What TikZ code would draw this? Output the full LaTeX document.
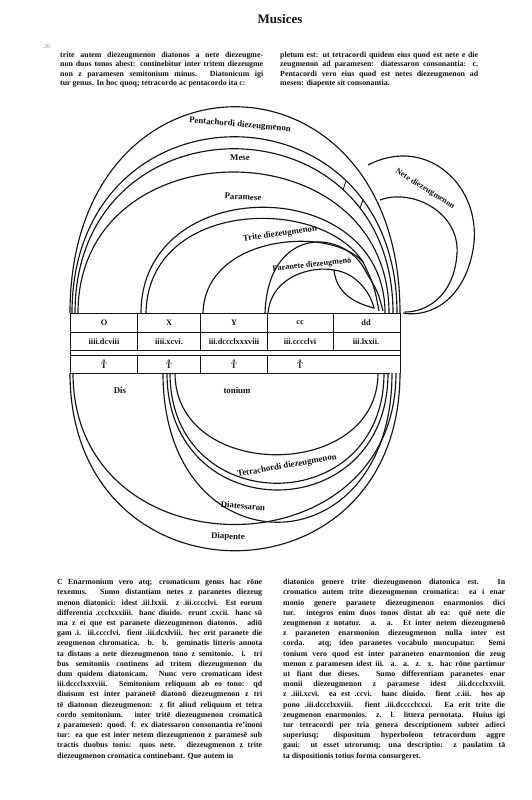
\documentclass[tikz,border=0pt]{standalone}
\usepackage{fontspec}
\setmainfont{Liberation Serif}
\usetikzlibrary{calc}
\colorlet{ink}{black!92}
\newlength{\colw}
\newcommand{\jl}[1]{\makebox[\colw][s]{#1}\\}
\newcommand{\tonus}{\shortstack{\fontsize{5.5}{5.5}\selectfont o\\[-2.5pt]T}}
\tikzstyle{runhead}=[font=\bfseries\fontsize{13}{13}\selectfont, inner sep=0pt, text=ink]
\tikzstyle{folio}=[font=\fontsize{6}{6}\selectfont, inner sep=0pt, text=black!45]
\tikzstyle{body}=[font=\bfseries\fontsize{7.9}{9.3}\selectfont, align=left, inner sep=0pt, anchor=north west, text=ink]
\tikzstyle{bodylow}=[body, font=\bfseries\fontsize{7.9}{10.2}\selectfont]
\tikzstyle{tag}=[font=\bfseries\fontsize{8.8}{8.8}\selectfont, inner sep=0pt, text=ink]
\tikzstyle{smalltag}=[tag, font=\bfseries\fontsize{8.2}{8.2}\selectfont]
\tikzstyle{cell}=[font=\bfseries\fontsize{8.3}{8.3}\selectfont, inner sep=0pt, text=ink]
\tikzstyle{band}=[line width=1.15pt, draw=ink]
\tikzstyle{rule}=[line width=0.9pt, draw=ink]

\begin{document}
\begin{tikzpicture}[x=1pt,y=-1pt]
\useasboundingbox[fill=white] (0,0) rectangle (531,800);

% Running head and folio
\node[runhead] (title) at (280,19) {Musices};
\node[folio] (folio) at (47,47) {26};

% Text above the figure
\node[body] (textTL) at (60,52) {\global\colw=203pt\relax
\jl{trite autem diezeugmenon diatonos a nete diezeugme-}
\jl{non duos tonos abest: continebitur inter tritem diezeugme}
\jl{non z paramesen semitonium minus. Diatonicum igi}
tur genus. In hoc quoq; tetracordo ac pentacordo ita c:};
\node[body] (textTR) at (280,52) {\global\colw=198pt\relax
\jl{pletum est: ut tetracordi quidem eius quod est nete e die}
\jl{zeugmenon ad paramesen: diatessaron consonantia: c.}
\jl{Pentacordi vero eius quod est netes diezeugmenon ad}
mesen: diapente sit consonantia.};

% Arcs above the table
\draw[band] (70,313) .. controls (70,38) and (400,38) .. (400,313);
\draw[band] (72,313) .. controls (72,78) and (397,78) .. (397,313);
\draw[band] (75,313) .. controls (75,94) and (393,94) .. (393,313);
\draw[band] (78,313) .. controls (78,125) and (389,125) .. (389,313);
\draw[band] (141,313) .. controls (141,172) and (385,172) .. (385,313);
\draw[rule] (346,181) -- (343,190);
\draw[rule] (363,200) -- (360,208);
% trite and paranete
\draw[band] (146,313) .. controls (148,200) and (320,195) .. (363,262);
\draw[band] (203,313) .. controls (205,235) and (330,225) .. (363,262);
\draw[band] (265,313) .. controls (268,225) and (345,228) .. (366,272);
\draw[band] (268,313) .. controls (272,274) and (315,266) .. (334,270);
\draw[band] (363,262) .. controls (374,285) .. (379,311);
\draw[band] (366,272) .. controls (378,292) .. (383,311);
\draw[band] (334,270) .. controls (356,273) and (370,292) .. (374,308)
  .. controls (350,302) and (336,290) .. (334,270);
% nete
\draw[band] (368,165) .. controls (428,134) and (484,188) .. (473,250)
  .. controls (464,300) and (430,318) .. (403,313);
\draw[band] (380,200) .. controls (412,188) and (460,212) .. (457,254)
  .. controls (454,295) and (428,312) .. (405,312);

\node[tag] (pentachordi) at (240,125) [rotate=-5] {Pentachordi diezeugmenon};
\node[tag] (mese) at (240,158) {Mese};
\node[tag] (paramese) at (243,197) [rotate=-3] {Paramese};
\node[tag] (trite) at (280,234) [rotate=8] {Trite diezeugmenon};
\node[smalltag] (paranete) at (312,265) [rotate=6] {Paranete diezeugmen\={o}};
\node[smalltag] (nete) at (425,189) [rotate=-32] {Nete diezeugmenon};

% Table
\draw[rule] (70,313) -- (400,313);
\draw[rule] (70,332) -- (400,332);
\draw[rule] (70,350) -- (400,350);
\draw[rule] (70,355) -- (400,355);
\draw[rule] (70,373) -- (390,373);
\draw[rule] (70,313) -- (70,373);
\draw[rule] (400,313) -- (400,373);
\foreach \x in {137,200,267,333}{ \draw[rule] (\x,313) -- (\x,350); }
\foreach \x in {137,200,267}{ \draw[rule] (\x,355) -- (\x,373); }

\node[cell] (o) at (104,323) {O};
\node[cell] (x) at (169,323) {X};
\node[cell] (y) at (234,323) {Y};
\node[cell] (cc) at (300,323) {cc};
\node[cell] (dd) at (366,323) {dd};
\node[cell] (n1) at (104,342) {iiii.dcviii};
\node[cell] (n2) at (169,342) {iiii.xcvi.};
\node[cell] (n3) at (234,342) {iii.dccclxxxviii};
\node[cell] (n4) at (300,342) {iii.cccclvi};
\node[cell] (n5) at (366,342) {iii.lxxii.};
\node[cell] (t1) at (104,364) {\tonus};
\node[cell] (t2) at (169,364) {\tonus};
\node[cell] (t3) at (234,364) {\tonus};
\node[cell] (t4) at (300,364) {\tonus};
\node[tag] (dis) at (120,390) {Dis};
\node[tag] (tonium) at (237,390) {tonium};

% Arcs below the table
\draw[band] (70,373) .. controls (70,610) and (400,610) .. (400,373);
\draw[band] (73,373) .. controls (73,575) and (396,575) .. (396,373);
\draw[band] (163,373) .. controls (163,572) and (392,572) .. (392,373);
\draw[band] (167,373) .. controls (167,529) and (388,529) .. (388,373);
\draw[band] (170,373) .. controls (170,520) and (384,520) .. (384,373);
\draw[band] (175,373) .. controls (175,482) and (378,482) .. (378,373);

\node[tag] (tetrachordi) at (287,466) [rotate=10] {Tetrachordi diezeugmenon};
\node[tag] (diatessaron) at (243,506) [rotate=-5] {Diatessaron};
\node[tag] (diapente) at (228,537) [rotate=-2] {Diapente};

% Text below the figure
\node[bodylow] (textBL) at (57,579) {\global\colw=205pt\relax
\jl{C Enarmonium vero atq; cromaticum genus hac r\={o}ne}
\jl{texemus. Sumo distantiam netes z paranetes diezeug}
\jl{menon diatonici: idest .iii.lxxii. z .iii.cccclvi. Est eorum}
\jl{differentia .ccclxxxiiii. hanc diuido. erunt .cxcii. hanc s\={u}}
\jl{ma z ei que est paranete diezeugmenon diatonos. adi\={u}}
\jl{gam .i. iii.cccclvi. fient .iii.dcxlviii. hec erit paranete die}
\jl{zeugmenon chromatica. b. b. geminatis litteris annota}
\jl{ta distans a nete diezeugmenon tono z semitonio. i. tri}
\jl{bus semitoniis continens ad tritem diezeugmenon du}
\jl{dum quidem diatonicam. Nunc vero cromaticam idest}
\jl{iii.dccclxxxviii. Semitonium reliquum ab eo tono: qd}
\jl{diuisum est inter paranet\={e} diaton\={o} diezeugmenon z tri}
\jl{t\={e} diatonon diezeugmenon: z fit aliud reliquum et tetra}
\jl{cordo semitonium. inter trit\={e} diezeugmenon cromatic\={a}}
\jl{z paramesen: quod. f. ex diatessaron consonantia re'inoni}
\jl{tur: ea que est inter netem diezeugmenon z parames\={e} sub}
\jl{tractis duobus tonis: quos nete. diezeugmenon z trite}
diezeugmenon cromatica continebant. Que autem in};
\node[bodylow] (textBR) at (283,579) {\global\colw=222pt\relax
\jl{diatonico genere trite diezeugmenon diatonica est. In}
\jl{cromatico autem trite diezeugmenon cromatica: ea i enar}
\jl{monio genere paranete diezeugmenon enarmonios dici}
\jl{tur. integros enim duos tonos distat ab ea: qu\={e} nete die}
\jl{zeugmenon z notatur. a. a. Et inter netem diezeugmen\={o}}
\jl{z paraneten enarmonion diezeugmenon nulla inter est}
\jl{corda. atq; ideo paranetes vocabulo nuncupatur. Semi}
\jl{tonium vero quod est inter paraneten enarmonion die zeug}
\jl{menon z paramesen idest iii. a. a. z. x. hac r\={o}ne partimur}
\jl{ut fiant due dieses. Sumo differentiam paranetes enar}
\jl{monii diezeugmenon z paramese idest .iii.dccclxxviii.}
\jl{z .iiii.xcvi. ea est .ccvi. hanc diuido. fient .c.iii. hos ap}
\jl{pono .iii.dccclxxviii. fient .iii.dcccclxxxi. Ea erit trite die}
\jl{zeugmenon enarmonios. z. l. littera pernotata. Huius igi}
\jl{tur tetracordi per tria genera descriptionem subter adieci}
\jl{superiusq; dispositum hyperboleon tetracordum aggre}
\jl{gaui: ut esset utrorumq; una descriptio: z paulatim t\={a}}
ta dispositionis totius forma consurgeret.};
\end{tikzpicture}
\end{document}
